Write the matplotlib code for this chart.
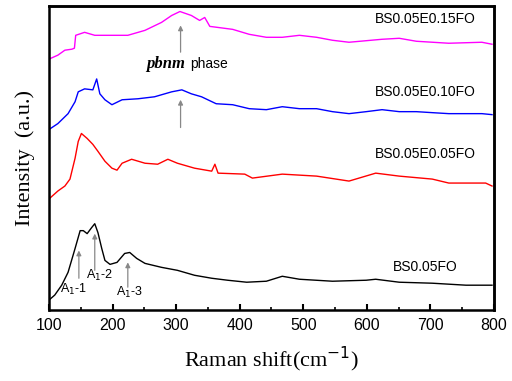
import numpy as np
import matplotlib
matplotlib.use('Agg')
import matplotlib.pyplot as plt

# Raman spectra, values (arbitrary offset intensity)
x_e15 = [100, 114, 125, 136, 140, 142, 156, 172, 199, 224, 251, 277, 293, 306, 324, 337, 345, 353,
         389, 415, 442, 467, 494, 521, 546, 572, 624, 651, 678, 729, 781, 797]
y_e15 = [253, 257, 262, 263, 264, 277, 280, 277, 277, 277, 282, 290, 297, 301, 297, 292, 295, 286,
         283, 278, 275, 275, 277, 275, 272, 270, 273, 274, 271, 269, 270, 268]

x_e10 = [100, 114, 130, 141, 146, 156, 169, 175, 180, 188, 199, 215, 240, 266, 293, 309, 324, 340,
         363, 389, 415, 442, 467, 494, 521, 546, 572, 599, 624, 651, 678, 703, 729, 756, 781, 797]
y_e10 = [182, 188, 198, 210, 220, 223, 222, 233, 218, 212, 207, 212, 213, 215, 220, 222, 218, 215,
         208, 207, 203, 202, 205, 203, 203, 200, 198, 200, 202, 200, 200, 199, 198, 198, 198, 197]

x_e05 = [100, 114, 125, 133, 141, 146, 151, 160, 169, 177, 188, 199, 207, 215, 230, 251, 271, 287,
         302, 329, 356, 361, 366, 408, 420, 467, 521, 572, 614, 651, 703, 729, 756, 787, 797]
y_e05 = [112, 120, 125, 132, 153, 170, 178, 173, 167, 160, 150, 143, 141, 148, 152, 148, 147, 152,
         148, 143, 140, 147, 138, 137, 133, 137, 135, 130, 138, 135, 132, 128, 128, 128, 125]

x_bs = [100, 109, 120, 130, 141, 149, 154, 160, 167, 172, 177, 183, 188, 196, 207, 219, 227, 238,
        251, 277, 302, 329, 356, 381, 411, 442, 467, 494, 546, 599, 614, 651, 703, 756, 797]
y_bs = [10, 15, 25, 38, 62, 80, 80, 77, 83, 87, 78, 62, 50, 46, 48, 57, 58, 52,
        47, 43, 40, 35, 32, 30, 28, 29, 34, 31, 29, 30, 31, 28, 27, 25, 25]

labels = ['BS0.05E0.15FO', 'BS0.05E0.10FO', 'BS0.05E0.05FO', 'BS0.05FO']
colors = ['#ff00ff', '#0000ff', '#ff0000', 'black']

plt.rcParams['font.family'] = ['Liberation Sans', 'DejaVu Sans']
plt.rcParams['axes.spines.top'] = True
plt.rcParams['axes.spines.right'] = True

fig = plt.figure(figsize=(5.12, 3.81), dpi=100)
ax = fig.add_axes([0.0957, 0.1864, 0.869, 0.799])

series = [(x_e15, y_e15), (x_e10, y_e10), (x_e05, y_e05), (x_bs, y_bs)]
for (xs, ys), c in zip(series, colors):
    ax.plot(xs, ys, color=c, lw=1.0)

ax.set_xlim(100, 800)
ax.set_ylim(0, 307)
ax.set_xticks(np.arange(100, 801, 100))
ax.set_xticks(np.arange(150, 800, 100), minor=True)
ax.set_yticks([])
ax.tick_params(axis='x', which='major', direction='in', length=4, width=1.5, labelsize=11.5, pad=6)
ax.tick_params(axis='x', which='minor', direction='in', length=2, width=1.2)
for s in ax.spines.values():
    s.set_linewidth(1.8)
    s.set_color('black')
# close the box on top and right with a line in axes coordinates
ax.plot([0, 1, 1], [1, 1, 0], transform=ax.transAxes, color='black', lw=1.8,
        clip_on=False, solid_joinstyle='miter')

# sample labels
ax.text(612, 293, labels[0], fontsize=10, va='center', ha='left')
ax.text(612, 220, labels[1], fontsize=10, va='center', ha='left')
ax.text(612, 157, labels[2], fontsize=10, va='center', ha='left')
ax.text(641, 43, labels[3], fontsize=10, va='center', ha='left')

# arrows
arrow = dict(arrowstyle='-|>', color='#888888', lw=0.9, mutation_scale=7,
             shrinkA=0, shrinkB=0)
for xa, y0, y1 in [(307, 260, 287), (307, 184, 212), (147, 32, 60), (172, 40, 77), (224, 23, 48)]:
    ax.annotate('', xy=(xa, y1), xytext=(xa, y0), arrowprops=arrow)

ax.text(253, 248, 'pbnm', fontsize=12, fontweight='bold', fontstyle='italic',
        family='Liberation Serif', va='center', ha='left')
ax.text(322, 248, 'phase', fontsize=10, va='center', ha='left')

ax.text(138, 21, 'A$_1$-1', fontsize=9, ha='center', va='center')
ax.text(180, 35, 'A$_1$-2', fontsize=9, ha='center', va='center')
ax.text(227, 18, 'A$_1$-3', fontsize=9, ha='center', va='center')

ax.set_xlabel('Raman shift(cm$^{-1}$)', family='Liberation Serif', fontsize=16, labelpad=8)
ax.set_ylabel('Intensity  (a.u.)', family='Liberation Serif', fontsize=16, labelpad=10)

fig.savefig('out.png', dpi=100)
